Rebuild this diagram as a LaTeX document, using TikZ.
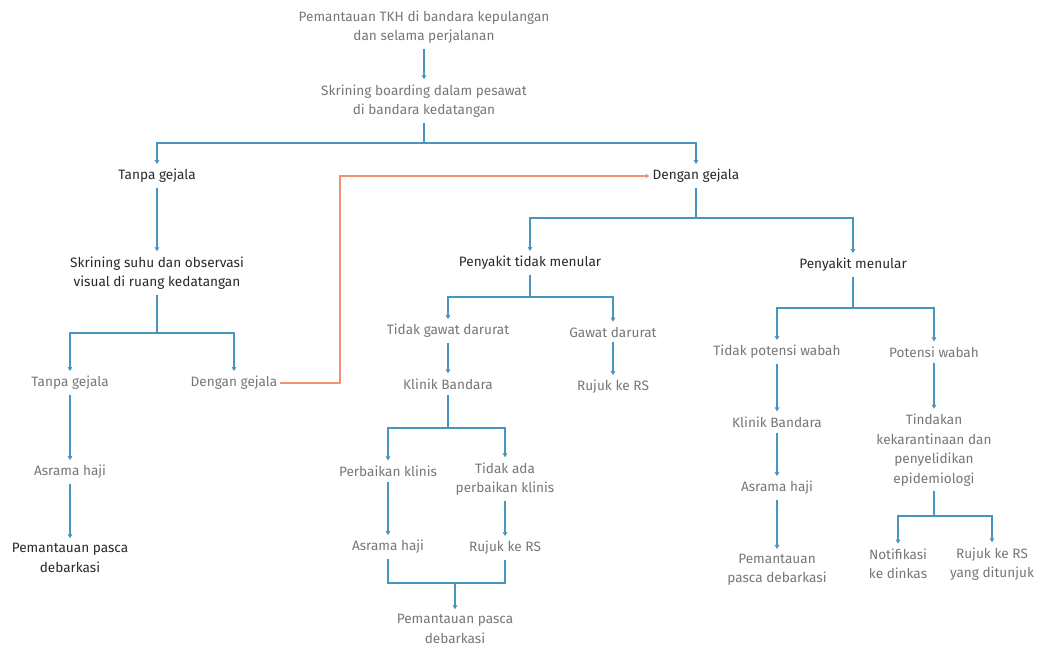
\documentclass[tikz,border=0pt]{standalone}
\usepackage{fontspec}
\setmainfont{Fira Sans}
\usetikzlibrary{arrows.meta}
\definecolor{lineblue}{RGB}{72,150,192}
\definecolor{lineorange}{RGB}{240,146,116}
\definecolor{txtgray}{RGB}{118,118,118}
\definecolor{txtdark}{RGB}{40,40,40}

\begin{document}
\begin{tikzpicture}[x=1pt,y=-1pt,
    lbl/.style={align=center,inner xsep=3pt,inner ysep=5pt,text=txtgray,font=\fontsize{13.6}{19.5}\selectfont},
    dark/.style={text=txtdark},
    link/.style={draw=lineblue,line width=1.3pt},
    arr/.style={link,-{Triangle[length=4pt,width=4.5pt]}},
    olink/.style={draw=lineorange,line width=1.3pt,-{Triangle[length=4pt,width=4.5pt]}}] % alur skrining kepulangan haji
  \useasboundingbox (0,0) rectangle (1042,648);
  % nodes
  \node[lbl] (tkh) at (424,27) {Pemantauan TKH di bandara kepulangan\\dan selama perjalanan};
  \node[lbl] (brd) at (424,101) {Skrining boarding dalam pesawat\\di bandara kedatangan};
  \node[lbl,dark] (tg) at (157,176) {Tanpa gejala};
  \node[lbl,dark] (dg) at (696,176) {Dengan gejala};
  \node[lbl,dark] (suhu) at (157,273) {Skrining suhu dan observasi\\visual di ruang kedatangan};
  \node[lbl] (tg2) at (70,383) {Tanpa gejala};
  \node[lbl] (dg2) at (234,383) {Dengan gejala};
  \node[lbl] (ah1) at (70,472) {Asrama haji};
  \node[lbl,dark] (pp1) at (70,558) {Pemantauan pasca\\debarkasi};
  \node[lbl,dark] (ptm) at (530,263) {Penyakit tidak menular};
  \node[lbl,dark] (pm) at (853,265) {Penyakit menular};
  \node[lbl] (tgd) at (448,331) {Tidak gawat darurat};
  \node[lbl] (gd) at (613,332) {Gawat darurat};
  \node[lbl] (kb1) at (448,384) {Klinik Bandara};
  \node[lbl] (rs1) at (613,387) {Rujuk ke RS};
  \node[lbl] (pk) at (388,471) {Perbaikan klinis};
  \node[lbl] (tpk) at (505,479) {Tidak ada\\perbaikan klinis};
  \node[lbl] (ah2) at (388,547) {Asrama haji};
  \node[lbl] (rs2) at (505,548) {Rujuk ke RS};
  \node[lbl] (pp2) at (455,629) {Pemantauan pasca\\debarkasi};
  \node[lbl] (tpw) at (777,352) {Tidak potensi wabah};
  \node[lbl] (pw) at (934,352) {Potensi wabah};
  \node[lbl] (kb2) at (777,422) {Klinik Bandara};
  \node[lbl] (tind) at (934,450) {Tindakan\\kekarantinaan dan\\penyelidikan\\epidemiologi};
  \node[lbl] (ah3) at (777,488) {Asrama haji};
  \node[lbl] (pp3) at (777,570) {Pemantauan\\pasca debarkasi};
  \node[lbl] (notif) at (898,564) {Notifikasi\\ke dinkas};
  \node[lbl] (rs3) at (992,564) {Rujuk ke RS\\yang ditunjuk};
  % branch points
  \coordinate (b0) at (424,143);
  \coordinate (b1) at (157,333);
  \coordinate (b2) at (696,218);
  \coordinate (b3) at (530,297);
  \coordinate (b4) at (448,428);
  \coordinate (b5) at (853,308);
  \coordinate (b6) at (934,516);
  \coordinate (mg) at (455,583);
  \coordinate (o1) at (340,176);
  % connectors
  \draw[arr] (tkh) -- (brd);
  \draw[link] (brd) -- (b0);
  \draw[arr] (b0) -| (tg);
  \draw[arr] (b0) -| (dg);
  \draw[arr] (tg) -- (suhu);
  \draw[link] (suhu) -- (b1);
  \draw[arr] (b1) -| (tg2);
  \draw[arr] (b1) -| (dg2);
  \draw[arr] (tg2) -- (ah1);
  \draw[arr] (ah1) -- (pp1);
  \draw[olink] (dg2) -| (o1) -- (dg);
  \draw[link] (dg) -- (b2);
  \draw[arr] (b2) -| (ptm);
  \draw[arr] (b2) -| (pm);
  \draw[link] (ptm) -- (b3);
  \draw[arr] (b3) -| (tgd);
  \draw[arr] (b3) -| (gd);
  \draw[arr] (tgd) -- (kb1);
  \draw[arr] (gd) -- (rs1);
  \draw[link] (kb1) -- (b4);
  \draw[arr] (b4) -| (pk);
  \draw[arr] (b4) -| (tpk);
  \draw[arr] (pk) -- (ah2);
  \draw[arr] (tpk) -- (rs2);
  \draw[link] (ah2) |- (mg) -| (rs2);
  \draw[arr] (mg) -- (pp2);
  \draw[link] (pm) -- (b5);
  \draw[arr] (b5) -| (tpw);
  \draw[arr] (b5) -| (pw);
  \draw[arr] (tpw) -- (kb2);
  \draw[arr] (pw) -- (tind);
  \draw[arr] (kb2) -- (ah3);
  \draw[arr] (ah3) -- (pp3);
  \draw[link] (tind) -- (b6);
  \draw[arr] (b6) -| (notif);
  \draw[arr] (b6) -| (rs3);
\end{tikzpicture}
\end{document}
